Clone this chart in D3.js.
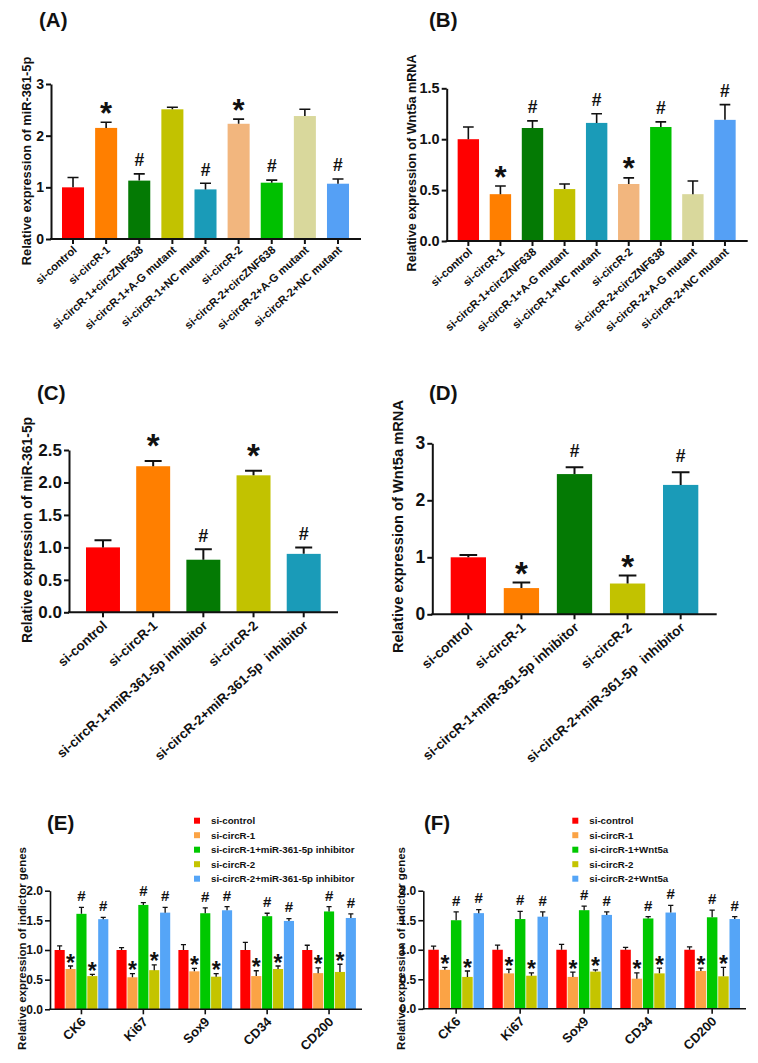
<!DOCTYPE html>
<html><head><meta charset="utf-8">
<script src="https://cdn.jsdelivr.net/npm/d3@7"></script>
<style>
body{margin:0;background:#fff}
svg{display:block}
text{font-family:"Liberation Sans",Arial,sans-serif;font-weight:bold;fill:#111}
</style>
</head><body>
<svg id="chart" width="758" height="1063"></svg>
<script>
// ---------------- DATA ----------------
const catsAB = ["si-control","si-circR-1","si-circR-1+circZNF638","si-circR-1+A-G mutant","si-circR-1+NC mutant","si-circR-2","si-circR-2+circZNF638","si-circR-2+A-G mutant","si-circR-2+NC mutant"];
const colorsAB = ["#ff0000","#ff7f00","#047a04","#c2c200","#1a9bb8","#f2b67e","#00c000","#d9d89c","#55a0f5"];
const valuesA = [1.00,2.15,1.13,2.51,0.96,2.23,1.09,2.38,1.07];
const errorsA = [0.19,0.11,0.13,0.04,0.12,0.09,0.05,0.13,0.09];
const marksA  = ["","*","#","","#","*","#","","#"];
const valuesB = [1.00,0.46,1.11,0.51,1.16,0.56,1.12,0.46,1.19];
const errorsB = [0.12,0.08,0.07,0.05,0.09,0.06,0.05,0.13,0.15];
const marksB  = ["","*","#","","#","*","#","","#"];

const catsCD = ["si-control","si-circR-1","si-circR-1+miR-361-5p inhibitor","si-circR-2","si-circR-2+miR-361-5p  inhibitor"];
const colorsCD = ["#ff0000","#ff7f00","#047a04","#c2c200","#1a9bb8"];
const valuesC = [1.00,2.25,0.81,2.11,0.90];
const errorsC = [0.11,0.08,0.16,0.07,0.10];
const marksC  = ["","*","#","*","#"];
const valuesD = [1.00,0.46,2.46,0.54,2.27];
const errorsD = [0.04,0.10,0.12,0.14,0.22];
const marksD  = ["","*","#","*","#"];

const genes = ["CK6","Ki67","Sox9","CD34","CD200"];
const seriesE = ["si-control","si-circR-1","si-circR-1+miR-361-5p inhibitor","si-circR-2","si-circR-2+miR-361-5p inhibitor"];
const seriesF = ["si-control","si-circR-1","si-circR-1+Wnt5a","si-circR-2","si-circR-2+Wnt5a"];
const colorsEF = ["#ff0000","#fba345","#00c800","#c4c400","#55a5f7"];
const marksEF = ["","*","#","*","#"];
// rows = series, columns = genes
const valuesE = [
  [1.00,1.00,1.00,1.00,1.00],
  [0.68,0.54,0.64,0.56,0.61],
  [1.61,1.76,1.62,1.57,1.65],
  [0.56,0.66,0.55,0.68,0.63],
  [1.52,1.63,1.67,1.49,1.54]];
const errorsE = [
  [0.07,0.04,0.09,0.13,0.08],
  [0.05,0.06,0.05,0.09,0.09],
  [0.11,0.04,0.09,0.05,0.08],
  [0.03,0.09,0.05,0.05,0.13],
  [0.03,0.09,0.06,0.04,0.07]];
const valuesF = [
  [1.00,1.00,1.00,1.00,1.00],
  [0.66,0.60,0.54,0.51,0.64],
  [1.50,1.52,1.67,1.53,1.55],
  [0.54,0.56,0.63,0.60,0.55],
  [1.62,1.56,1.59,1.63,1.52]];
const errorsF = [
  [0.06,0.08,0.09,0.04,0.05],
  [0.04,0.07,0.08,0.10,0.05],
  [0.14,0.13,0.07,0.03,0.12],
  [0.10,0.05,0.03,0.09,0.15],
  [0.06,0.08,0.05,0.12,0.04]];

const ticksA = [0,1,2,3], ticksB = [0,0.5,1,1.5], ticksC = [0,0.5,1,1.5,2,2.5], ticksD = [0,1,2,3], ticksEF = [0,0.5,1,1.5,2];

// ---------------- DRAWING ----------------
const svg = d3.select("#chart");

function markY(mark, top, fs, off){
  const c = top - off;
  return mark === "*" ? c + 0.55*fs : c + 0.36*fs;
}

function yAxisAndLabels(g, cfg, y){
  const ax = d3.axisLeft(y).tickValues(cfg.ticks).tickFormat(d3.format(cfg.fmt))
    .tickSizeInner(5).tickSizeOuter(0).tickPadding(cfg.tickPad || 3);
  const ga = g.append("g").attr("transform",`translate(${cfg.axisX},0)`).call(ax);
  ga.select(".domain").attr("stroke","#111").attr("stroke-width",cfg.axisW);
  ga.selectAll(".tick line").attr("stroke","#111").attr("stroke-width",cfg.axisW);
  ga.selectAll(".tick text").attr("font-size",cfg.tickFont).attr("font-family",null).style("font-weight","bold").attr("fill","#111");
  g.append("line").attr("x1",cfg.axisX - cfg.axisW/2).attr("x2",cfg.axisEnd)
    .attr("y1",cfg.y0).attr("y2",cfg.y0).attr("stroke","#111").attr("stroke-width",cfg.axisW);
  g.append("text").attr("transform",`translate(${cfg.yLabelX},${cfg.yLabelY}) rotate(-90)`)
    .attr("text-anchor","middle").attr("dominant-baseline","central")
    .attr("font-size",cfg.yLabelFont).text(cfg.yLabel);
  g.append("text").attr("x",cfg.tx).attr("y",cfg.ty).attr("font-size",20.5).text(cfg.title);
}

function simplePanel(cfg){
  const g = svg.append("g");
  const y = d3.scaleLinear().domain([0,cfg.yMax]).range([cfg.y0,cfg.yTop]);
  const x = d3.scaleBand().domain(cfg.cats).range(cfg.band).paddingInner(cfg.pi).paddingOuter(cfg.pi/2);
  const bw = x.bandwidth();
  const data = cfg.cats.map((c,i)=>({c, v:cfg.values[i], e:cfg.errors[i], col:cfg.colors[i], m:cfg.marks[i]}));
  g.selectAll("rect.bar").data(data).join("rect").attr("class","bar")
    .attr("x",d=>x(d.c)).attr("width",bw)
    .attr("y",d=>y(d.v)).attr("height",d=>y(0)-y(d.v)).attr("fill",d=>d.col);
  g.selectAll("path.err").data(data).join("path").attr("class","err")
    .attr("d",d=>{const cx=x(d.c)+bw/2, t=y(d.v+d.e); return `M${cx},${y(d.v)}V${t}M${cx-bw/4},${t}H${cx+bw/4}`;})
    .attr("fill","none").attr("stroke","#111").attr("stroke-width",cfg.errW);
  g.selectAll("text.mk").data(data.filter(d=>d.m)).join("text").attr("class","mk")
    .attr("x",d=>x(d.c)+bw/2).attr("text-anchor","middle")
    .attr("font-size",d=>d.m==="*"?cfg.starFs:cfg.hashFs)
    .attr("y",d=>markY(d.m, y(d.v+d.e), d.m==="*"?cfg.starFs:cfg.hashFs, d.m==="*"?cfg.starOff:cfg.hashOff))
    .text(d=>d.m);
  yAxisAndLabels(g,cfg,y);
  const xa = g.append("g").attr("transform",`translate(0,${cfg.y0})`)
    .call(d3.axisBottom(x).tickSize(5).tickFormat(""));
  xa.select(".domain").remove();
  xa.selectAll(".tick line").attr("stroke","#111").attr("stroke-width",cfg.axisW);
  g.selectAll("text.xl").data(cfg.cats).join("text").attr("class","xl")
    .attr("transform",d=>`translate(${x(d)+bw/2+cfg.xlDx},${cfg.y0+cfg.xlDy}) rotate(${-cfg.angle})`)
    .attr("text-anchor","end").attr("dy","0.35em").style("white-space","pre")
    .attr("font-size",cfg.xFont).text(d=>d);
}

function groupedPanel(cfg){
  const g = svg.append("g");
  const y = d3.scaleLinear().domain([0,cfg.yMax]).range([cfg.y0,cfg.yTop]);
  const x0 = d3.scaleBand().domain(genes).range(cfg.band).paddingInner(cfg.pi).paddingOuter(cfg.pi/2);
  const x1 = d3.scaleBand().domain(d3.range(cfg.series.length)).range([0,x0.bandwidth()]).paddingInner(0.07);
  const bw = x1.bandwidth();
  const data = [];
  genes.forEach((gn,j)=>cfg.series.forEach((s,i)=>data.push({gn,i,v:cfg.values[i][j],e:cfg.errors[i][j],col:colorsEF[i],m:marksEF[i]})));
  const cx = d=>x0(d.gn)+x1(d.i)+bw/2;
  g.selectAll("rect.bar").data(data).join("rect").attr("class","bar")
    .attr("x",d=>x0(d.gn)+x1(d.i)).attr("width",bw)
    .attr("y",d=>y(d.v)).attr("height",d=>y(0)-y(d.v)).attr("fill",d=>d.col);
  g.selectAll("path.err").data(data).join("path").attr("class","err")
    .attr("d",d=>{const c=cx(d), t=y(d.v+d.e); return `M${c},${y(d.v)}V${t}M${c-bw/4},${t}H${c+bw/4}`;})
    .attr("fill","none").attr("stroke","#111").attr("stroke-width",cfg.errW);
  g.selectAll("text.mk").data(data.filter(d=>d.m)).join("text").attr("class","mk")
    .attr("x",cx).attr("text-anchor","middle")
    .attr("font-size",d=>d.m==="*"?cfg.starFs:cfg.hashFs)
    .attr("y",d=>markY(d.m, y(d.v+d.e), d.m==="*"?cfg.starFs:cfg.hashFs, d.m==="*"?cfg.starOff:cfg.hashOff))
    .text(d=>d.m);
  yAxisAndLabels(g,cfg,y);
  const xa = g.append("g").attr("transform",`translate(0,${cfg.y0})`)
    .call(d3.axisBottom(x0).tickSize(5).tickFormat(""));
  xa.select(".domain").remove();
  xa.selectAll(".tick line").attr("stroke","#111").attr("stroke-width",cfg.axisW);
  g.selectAll("text.xl").data(genes).join("text").attr("class","xl")
    .attr("transform",d=>`translate(${x0(d)+x0.bandwidth()/2+cfg.xlDx},${cfg.y0+cfg.xlDy}) rotate(${-cfg.angle})`)
    .attr("text-anchor","end").attr("dy","0.35em")
    .attr("font-size",cfg.xFont).text(d=>d);
  const lg = g.append("g");
  cfg.series.forEach((s,i)=>{
    const ly = cfg.legY0 + i*cfg.legStep;
    lg.append("rect").attr("x",cfg.legX).attr("y",ly-3).attr("width",6).attr("height",6).attr("fill",colorsEF[i]);
    lg.append("text").attr("x",cfg.legX+17).attr("y",ly).attr("dominant-baseline","central")
      .attr("font-size",cfg.legFont).text(s);
  });
}

simplePanel({title:"(A)",tx:39,ty:27,cats:catsAB,colors:colorsAB,values:valuesA,errors:errorsA,marks:marksA,
  axisX:51,axisEnd:361,y0:239,yTop:84,yMax:3,ticks:ticksA,fmt:"d",band:[56.45,354.55],pi:0.335,
  tickFont:14,tickPad:2,yLabel:"Relative expression of miR-361-5p",yLabelX:26,yLabelY:161,yLabelFont:12.8,
  xFont:11.2,xlDx:2,xlDy:9,angle:42,axisW:2,errW:1.6,starFs:31,hashFs:17.5,starOff:15.5,hashOff:14});

simplePanel({title:"(B)",tx:429,ty:27,cats:catsAB,colors:colorsAB,values:valuesB,errors:errorsB,marks:marksB,
  axisX:446.7,axisEnd:747.7,y0:241,yTop:88.3,yMax:1.5,ticks:ticksB,fmt:".1f",band:[452.3,741],pi:0.333,
  tickFont:14.5,tickPad:2,yLabel:"Relative expression of Wnt5a mRNA",yLabelX:411.7,yLabelY:163,yLabelFont:12.6,
  xFont:11.2,xlDx:2,xlDy:9,angle:42,axisW:2,errW:1.6,starFs:31,hashFs:17.5,starOff:15.5,hashOff:14});

simplePanel({title:"(C)",tx:37,ty:400,cats:catsCD,colors:colorsCD,values:valuesC,errors:errorsC,marks:marksC,
  axisX:69,axisEnd:338,y0:612.3,yTop:450,yMax:2.5,ticks:ticksC,fmt:".1f",band:[77.9,328.8],pi:0.323,
  tickFont:17,tickPad:2,yLabel:"Relative expression of miR-361-5p",yLabelX:27,yLabelY:530,yLabelFont:13.9,
  xFont:13.3,xlDx:2,xlDy:11,angle:42,axisW:2,errW:2,starFs:33,hashFs:18,starOff:22,hashOff:14});

simplePanel({title:"(D)",tx:429,ty:400,cats:catsCD,colors:colorsCD,values:valuesD,errors:errorsD,marks:marksD,
  axisX:432.3,axisEnd:716.7,y0:614.3,yTop:443.3,yMax:3,ticks:ticksD,fmt:"d",band:[441.8,707.2],pi:0.335,
  tickFont:17.5,tickPad:2,yLabel:"Relative expression of Wnt5a mRNA",yLabelX:398,yLabelY:526.5,yLabelFont:14.7,
  xFont:13.6,xlDx:2,xlDy:11,angle:41,axisW:2,errW:2,starFs:33,hashFs:17.5,starOff:16,hashOff:16.5});

groupedPanel({title:"(E)",tx:47,ty:830,series:seriesE,values:valuesE,errors:errorsE,
  axisX:50,axisEnd:362,y0:1009.3,yTop:890.7,yMax:2,ticks:ticksEF,fmt:".1f",band:[50.5,360],pi:0.132,
  tickFont:12,tickPad:2,yLabel:"Relative expression of indictor genes",yLabelX:21.7,yLabelY:948.5,yLabelFont:11.45,
  xFont:13,xlDx:2,xlDy:10,angle:45,axisW:1.6,errW:1.3,starFs:23,hashFs:15,starOff:8,hashOff:11.5,
  legX:194,legY0:820.7,legStep:14.5,legFont:9.7});

groupedPanel({title:"(F)",tx:424,ty:830,series:seriesF,values:valuesF,errors:errorsF,
  axisX:423.3,axisEnd:746,y0:1008.8,yTop:890.7,yMax:2,ticks:ticksEF,fmt:".1f",band:[424.15,744.15],pi:0.13,
  tickFont:12,tickPad:2,yLabel:"Relative expression of indictor genes",yLabelX:401,yLabelY:948.5,yLabelFont:11.45,
  xFont:13,xlDx:2,xlDy:10,angle:45,axisW:1.6,errW:1.3,starFs:23,hashFs:15,starOff:8,hashOff:11.5,
  legX:572.3,legY0:820.7,legStep:14.5,legFont:9.7});
</script>
</body></html>
